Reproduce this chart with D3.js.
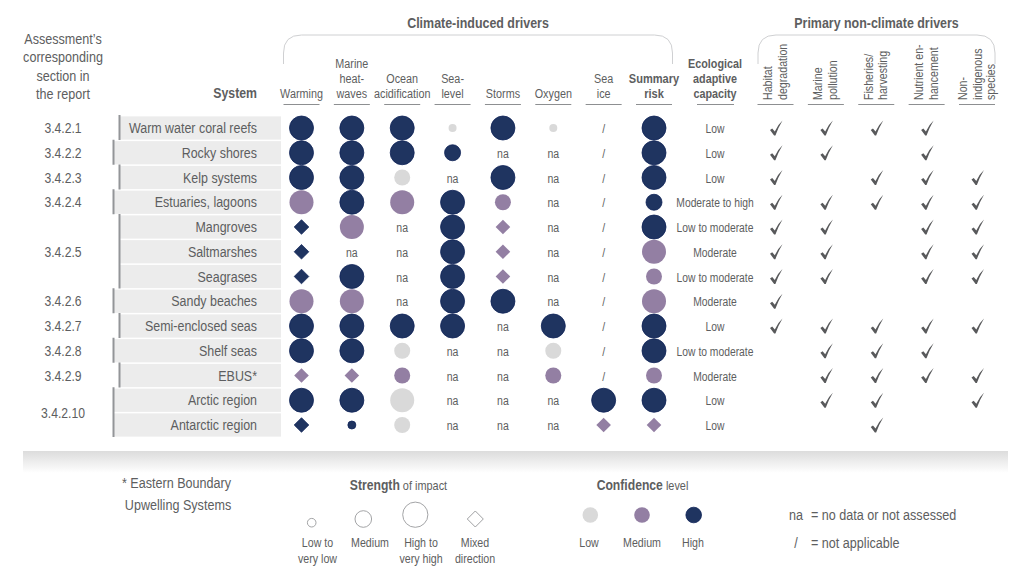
<!DOCTYPE html>
<html>
<head>
<meta charset="utf-8">
<script src="https://cdn.jsdelivr.net/npm/d3@7"></script>
<style>
  html, body { margin: 0; padding: 0; background: #fff; }
  svg { display: block; }
  text { font-family: "Liberation Sans", Arial, sans-serif; fill: #5d5e60; }
</style>
</head>
<body>
<svg id="chart" width="1024" height="578"></svg>
<script>
var svg = d3.select('#chart');

// cell codes: confidence (L/M/H) + strength (1,2,3 or d for mixed direction)
var drivers = ['Warming', 'Marine heat-waves', 'Ocean acidification', 'Sea-level', 'Storms', 'Oxygen', 'Sea ice', 'Summary risk'];
var nonClimate = ['Habitat', 'Marine', 'Fisheries', 'Nutrient', 'Non-indigenous'];
var rows = [
  {name: 'Warm water coral reefs', cells: ['H3','H3','H3','L1','H3','L1','/','H3'], cap: 'Low', checks: [1,1,1,1,0], bar: 1},
  {name: 'Rocky shores', cells: ['H3','H3','H3','H2','na','na','/','H3'], cap: 'Low', checks: [1,1,0,1,0], bar: 0},
  {name: 'Kelp systems', cells: ['H3','H3','L2','na','H3','na','/','H3'], cap: 'Low', checks: [1,0,1,1,1], bar: 1},
  {name: 'Estuaries, lagoons', cells: ['M3','H3','M3','H3','M2','na','/','H2'], cap: 'Moderate to high', checks: [1,1,1,1,1], bar: 0},
  {name: 'Mangroves', cells: ['Hd','M3','na','H3','Md','na','/','H3'], cap: 'Low to moderate', checks: [1,1,0,1,1], bar: 1},
  {name: 'Saltmarshes', cells: ['Hd','na','na','H3','Md','na','/','M3'], cap: 'Moderate', checks: [1,1,0,1,1], bar: 1},
  {name: 'Seagrases', cells: ['Hd','H3','na','H3','Md','na','/','M2'], cap: 'Low to moderate', checks: [1,1,0,1,1], bar: 1},
  {name: 'Sandy beaches', cells: ['M3','M3','na','H3','H3','na','/','M3'], cap: 'Moderate', checks: [1,0,0,0,0], bar: 0},
  {name: 'Semi-enclosed seas', cells: ['H3','H3','H3','H3','na','H3','/','H3'], cap: 'Low', checks: [1,1,1,1,1], bar: 1},
  {name: 'Shelf seas', cells: ['H3','H3','L2','na','na','L2','/','H3'], cap: 'Low to moderate', checks: [0,1,1,1,0], bar: 0},
  {name: 'EBUS*', cells: ['Md','Md','M2','na','na','M2','/','M2'], cap: 'Moderate', checks: [0,1,1,1,1], bar: 1},
  {name: 'Arctic region', cells: ['H3','H3','L3','na','na','na','H3','H3'], cap: 'Low', checks: [0,1,1,0,1], bar: 0},
  {name: 'Antarctic region', cells: ['Hd','H1','L2','na','na','na','Md','Md'], cap: 'Low', checks: [0,0,1,0,0], bar: 0}
];
var sections = [
  {label: '3.4.2.1', from: 0, to: 0}, {label: '3.4.2.2', from: 1, to: 1}, {label: '3.4.2.3', from: 2, to: 2},
  {label: '3.4.2.4', from: 3, to: 3}, {label: '3.4.2.5', from: 4, to: 6}, {label: '3.4.2.6', from: 7, to: 7},
  {label: '3.4.2.7', from: 8, to: 8}, {label: '3.4.2.8', from: 9, to: 9}, {label: '3.4.2.9', from: 10, to: 10},
  {label: '3.4.2.10', from: 11, to: 12}
];

var colors = {L: '#d9d9d9', M: '#937fa3', H: '#1f3460'};
var strokes = {L: '#d9d9d9', M: '#937fa3', H: '#0f2358'};
var radius = d3.scaleOrdinal().domain(['1','2','3']).range([4, 8, 12]);

var y = d3.scalePoint().domain(d3.range(rows.length)).range([128, 425]);
var x = d3.scalePoint().domain(drivers).range([301.5, 654]);
var xCheck = d3.scalePoint().domain(nonClimate).range([775.5, 977]);

// horizontally squeezed text, the reference font is narrower than Liberation
function label(g, s, px, py, size, anchor, weight, sx) {
  return g.append('text')
    .attr('transform', 'translate(' + px + ',' + py + ') scale(' + (sx || 0.8) + ',1)')
    .attr('text-anchor', anchor || 'middle')
    .attr('font-size', size)
    .attr('font-weight', weight || 'normal')
    .text(s);
}

function diamond(g, px, py, r, fill, stroke, sw) {
  g.append('path')
    .attr('d', d3.symbol(d3.symbolSquare, 2 * r * r))
    .attr('transform', 'translate(' + px + ',' + py + ') rotate(45)')
    .attr('fill', fill).attr('stroke', stroke).attr('stroke-width', sw);
}

function check(g, px, py) {
  g.append('path')
    .attr('d', 'M-6,2 L-3.8,0.6 L-1.2,3.4 Q2,-3.5 6.5,-7.5 Q2,0 -0.6,7.5 H-1.9 Z')
    .attr('transform', 'translate(' + (px + 0.5) + ',' + py + ')')
    .attr('fill', '#58595b');
}

// row bands
var bands = svg.append('g');
rows.forEach(function(r, i) {
  var left = r.bar ? 120 : 114;
  bands.append('rect').attr('x', left).attr('y', y(i) - 11.6).attr('width', 281 - left).attr('height', 23.2).attr('fill', '#ececec');
});
rows.forEach(function(r, i) {
  label(bands, r.name, 257, y(i) + 5, 15, 'end', 'normal', 0.83);
});

// left bars per section
var barG = svg.append('g');
sections.forEach(function(s) {
  var bx = rows[s.from].bar ? 119.5 : 113.5;
  barG.append('line').attr('x1', bx).attr('x2', bx)
    .attr('y1', y(s.from) - 13).attr('y2', y(s.to) + 12)
    .attr('stroke', '#939598').attr('stroke-width', 2);
  label(barG, s.label, 63, (y(s.from) + y(s.to)) / 2 + 5, 14.5, 'middle', 'normal', 0.84);
});

// cells
var cellG = svg.append('g');
rows.forEach(function(r, i) {
  r.cells.forEach(function(c, j) {
    var cx = x(drivers[j]), cy = y(i);
    if (c === 'na' || c === '/') { label(cellG, c, cx, cy + 5, 13.5, 'middle', 'normal', 0.78); return; }
    var conf = c[0], st = c[1];
    if (st === 'd') {
      diamond(cellG, cx, cy, 7.3, colors[conf], strokes[conf], conf === 'H' ? 0.7 : 0);
    } else {
      cellG.append('circle').attr('cx', cx).attr('cy', cy).attr('r', radius(st))
        .attr('fill', colors[conf]).attr('stroke', strokes[conf]).attr('stroke-width', conf === 'H' ? 0.8 : 0);
    }
  });
  label(cellG, r.cap, 715, y(i) + 5, 13.5, 'middle', 'normal', 0.765);
  r.checks.forEach(function(v, j) {
    if (v) check(cellG, xCheck(nonClimate[j]), y(i));
  });
});

// column headers
var head = svg.append('g');
label(head, 'Climate-induced drivers', 478, 27.5, 15, 'middle', 'bold', 0.83);
label(head, 'Primary non-climate drivers', 876.5, 27.5, 15, 'middle', 'bold', 0.83);
['Assessment\u2019s', 'corresponding', 'section in', 'the report'].forEach(function(s, i) {
  label(head, s, 63, 44 + i * 18.4, 15, 'middle', 'normal', 0.84);
});
label(head, 'System', 257, 98, 15, 'end', 'bold', 0.82);

var headerLines = [['Warming'], ['Marine', 'heat-', 'waves'], ['Ocean', 'acidification'], ['Sea-', 'level'], ['Storms'], ['Oxygen'], ['Sea', 'ice'], ['Summary', 'risk']];
headerLines.forEach(function(lines, j) {
  lines.forEach(function(s, k) {
    label(head, s, x(drivers[j]), 98 - (lines.length - 1 - k) * 15, 13.5, 'middle', j === 7 ? 'bold' : 'normal', j === 7 ? 0.82 : 0.8);
  });
  head.append('line').attr('x1', x(drivers[j]) - 18).attr('x2', x(drivers[j]) + 18).attr('y1', 104.5).attr('y2', 104.5).attr('stroke', '#808285').attr('stroke-width', 0.9);
});
['Ecological', 'adaptive', 'capacity'].forEach(function(s, k) {
  label(head, s, 715, 67.5 + k * 15, 13.5, 'middle', 'bold', 0.8);
});
head.append('line').attr('x1', 697).attr('x2', 734).attr('y1', 104.5).attr('y2', 104.5).attr('stroke', '#808285').attr('stroke-width', 0.9);

var rotated = [['Habitat', 'degradation'], ['Marine', 'pollution'], ['Fisheries/', 'harvesting'], ['Nutrient en-', 'hancement'], ['Non-', 'indigenous', 'species']];
rotated.forEach(function(lines, j) {
  var cx = xCheck(nonClimate[j]);
  var offsets = lines.length === 3 ? [-15, 0, 13] : [-8, 6.5];
  lines.forEach(function(s, k) {
    head.append('text')
      .attr('transform', 'translate(' + (cx + offsets[k] + 4.5) + ',100) rotate(-90) scale(0.82,1)')
      .attr('font-size', 13).text(s);
  });
  head.append('line').attr('x1', cx - 18).attr('x2', cx + 18).attr('y1', 104.5).attr('y2', 104.5).attr('stroke', '#808285').attr('stroke-width', 0.9);
});

// group brackets
function bracket(x0, x1) {
  head.append('path')
    .attr('d', 'M' + x0 + ',64 V53 Q' + x0 + ',35 ' + (x0 + 18) + ',35 H' + (x1 - 18) + ' Q' + x1 + ',35 ' + x1 + ',53 V64')
    .attr('fill', 'none').attr('stroke', '#cfd0d2').attr('stroke-width', 1);
}
bracket(283.5, 672.5);
bracket(758, 995);

// grey fade strip above the legend
var defs = svg.append('defs');
var grad = defs.append('linearGradient').attr('id', 'fade').attr('x1', 0).attr('x2', 0).attr('y1', 0).attr('y2', 1);
grad.append('stop').attr('offset', 0).attr('stop-color', '#dcdcdc');
grad.append('stop').attr('offset', 1).attr('stop-color', '#ffffff');
svg.append('rect').attr('x', 23).attr('y', 451).attr('width', 985).attr('height', 22).attr('fill', 'url(#fade)');

// legend
var leg = svg.append('g');
label(leg, '* Eastern Boundary', 176.5, 487.5, 15, 'middle', 'normal', 0.84);
label(leg, 'Upwelling Systems', 178, 510, 15, 'middle', 'normal', 0.84);

var strength = leg.append('text').attr('transform', 'translate(398.5,490) scale(0.84,1)').attr('text-anchor', 'middle').attr('font-size', 14.5);
strength.append('tspan').attr('font-weight', 'bold').text('Strength');
strength.append('tspan').attr('font-size', 13).text(' of impact');
var confidence = leg.append('text').attr('transform', 'translate(642.5,490) scale(0.84,1)').attr('text-anchor', 'middle').attr('font-size', 14.5);
confidence.append('tspan').attr('font-weight', 'bold').text('Confidence');
confidence.append('tspan').attr('font-size', 13).text(' level');

var strengthKeys = [
  {kx: 311.7, ky: 522.7, r: 4.3, tx: 317.5, lines: ['Low to', 'very low']},
  {kx: 363.3, ky: 519, r: 8.3, tx: 370, lines: ['Medium']},
  {kx: 415.3, ky: 514.7, r: 12.6, tx: 421, lines: ['High to', 'very high']},
  {kx: 475.3, ky: 519, r: 8, tx: 475, d: 1, lines: ['Mixed', 'direction']}
];
strengthKeys.forEach(function(k) {
  if (k.d) diamond(leg, k.kx, k.ky, k.r, '#fff', '#999a9c', 0.9);
  else leg.append('circle').attr('cx', k.kx).attr('cy', k.ky).attr('r', k.r)
    .attr('fill', '#fff').attr('stroke', '#999a9c').attr('stroke-width', 0.9);
  k.lines.forEach(function(s, i) {
    label(leg, s, k.tx, 547 + i * 16, 13, 'middle', 'normal', 0.82);
  });
});

var confKeys = [['L', 'Low', 590.3, 589], ['M', 'Medium', 642, 642], ['H', 'High', 693.7, 693]];
confKeys.forEach(function(k) {
  leg.append('circle').attr('cx', k[2]).attr('cy', 515).attr('r', 7.8).attr('fill', colors[k[0]]).attr('stroke', strokes[k[0]]).attr('stroke-width', k[0] === 'H' ? 0.8 : 0);
  label(leg, k[1], k[3], 547, 13, 'middle', 'normal', 0.82);
});

label(leg, 'na', 796, 520, 15, 'middle', 'normal', 0.84);
label(leg, '= no data or not assessed', 811, 520, 15, 'start', 'normal', 0.84);
label(leg, '/', 796, 548, 15, 'middle', 'normal', 0.84);
label(leg, '= not applicable', 811, 548, 15, 'start', 'normal', 0.84);
</script>
</body>
</html>
